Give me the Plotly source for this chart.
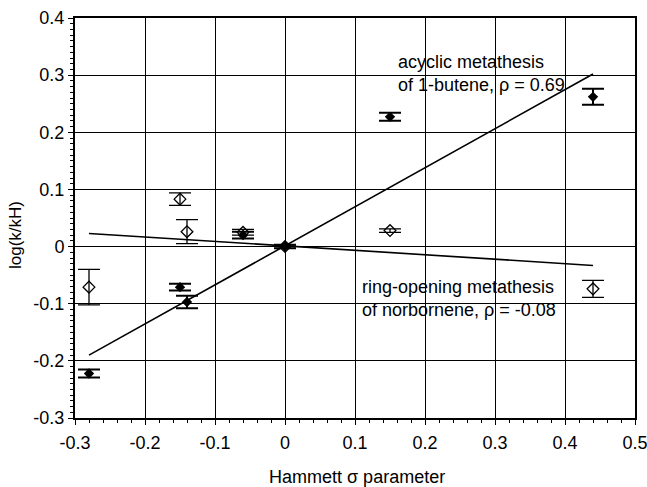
import plotly.graph_objects as go

# Hammett sigma values and log(k/kH)
sigma_acyclic = [-0.28, -0.15, -0.14, -0.06, 0.0, 0.15, 0.44]
logk_acyclic = [-0.222, -0.071, -0.097, 0.020, 0.0, 0.227, 0.262]
err_acyclic = [0.007, 0.006, 0.011, 0.006, 0.003, 0.007, 0.014]

sigma_norb = [-0.28, -0.15, -0.14, -0.06, 0.0, 0.15, 0.44]
logk_norb = [-0.071, 0.083, 0.026, 0.025, 0.0, 0.028, -0.074]
err_norb = [0.031, 0.011, 0.021, 0.005, 0.003, 0.003, 0.015]

fit_x = [-0.28, 0.44]
fit_acyclic = [-0.190, 0.302]
fit_norb = [0.023, -0.033]

x_ticks = [-0.3, -0.2, -0.1, 0, 0.1, 0.2, 0.3, 0.4, 0.5]
x_labels = ["-0.3", "-0.2", "-0.1", "0", "0.1", "0.2", "0.3", "0.4", "0.5"]
y_ticks = [-0.3, -0.2, -0.1, 0, 0.1, 0.2, 0.3, 0.4]
y_labels = ["-0.3", "-0.2", "-0.1", "0", "0.1", "0.2", "0.3", "0.4"]

font = "Liberation Sans, Arial, sans-serif"

fig = go.Figure()
fig.add_trace(go.Scatter(x=fit_x, y=fit_acyclic, mode="lines",
                         line=dict(color="black", width=1.6), showlegend=False))
fig.add_trace(go.Scatter(x=fit_x, y=fit_norb, mode="lines",
                         line=dict(color="black", width=1.6), showlegend=False))
fig.add_trace(go.Scatter(x=sigma_norb, y=logk_norb, mode="markers",
                         marker=dict(symbol="diamond-open", size=9, color="black",
                                     line=dict(width=1.3)),
                         error_y=dict(type="data", array=err_norb, visible=True,
                                      color="black", thickness=1.3, width=11),
                         showlegend=False))
fig.add_trace(go.Scatter(x=sigma_acyclic, y=logk_acyclic, mode="markers",
                         marker=dict(symbol="diamond", size=8, color="black"),
                         error_y=dict(type="data", array=err_acyclic, visible=True,
                                      color="black", thickness=2, width=11),
                         showlegend=False))

fig.add_annotation(x=0.158, y=0.344, xref="x", yref="y", xanchor="left", yanchor="top",
                   text="acyclic metathesis<br>of 1-butene, ρ = 0.69", showarrow=False,
                   align="left", font=dict(family=font, size=18, color="black"))
fig.add_annotation(x=0.107, y=-0.050, xref="x", yref="y", xanchor="left", yanchor="top",
                   text="ring-opening metathesis<br>of norbornene, ρ = -0.08", showarrow=False,
                   align="left", font=dict(family=font, size=18, color="black"))

# axis titles (placed by pixel position, converted to paper fractions below)
fig.add_annotation(x=357, y=487 - 477, xref="paper", yref="paper", text="Hammett σ parameter",
                   xanchor="center", yanchor="middle",
                   showarrow=False, font=dict(family=font, size=18, color="black"))
fig.add_annotation(x=15, y=487 - 235, xref="paper", yref="paper", text="log(k/kH)",
                   xanchor="center", yanchor="middle",
                   textangle=-90, showarrow=False, font=dict(family=font, size=17, color="black"))
L, R, T, B = 75, 12, 18, 69
pw, ph = 647 - L - R, 487 - T - B
for a in fig.layout.annotations[2:]:
    a.x = (a.x - L) / pw
    a.y = (a.y - B) / ph

fig.update_layout(
    width=647, height=487,
    margin=dict(l=L, r=R, t=T, b=B),
    paper_bgcolor="white", plot_bgcolor="white",
    font=dict(family=font, size=16, color="black"),
)
fig.update_xaxes(
    range=[-0.3, 0.5], tickmode="array", tickvals=x_ticks, ticktext=x_labels,
    showgrid=True, gridcolor="black", gridwidth=1,
    showline=True, linecolor="black", linewidth=2, mirror=True,
    ticks="outside", ticklen=5, tickcolor="black",
    minor=dict(dtick=0.02, tick0=0, ticks="outside", ticklen=3, tickcolor="black", showgrid=False),
    zeroline=False, automargin=False, ticklabeloverflow="allow",
    tickfont=dict(size=18), tickangle=0, ticklabelstandoff=2,
)
fig.update_yaxes(
    range=[-0.3, 0.4], tickmode="array", tickvals=y_ticks, ticktext=y_labels,
    showgrid=True, gridcolor="black", gridwidth=1,
    showline=True, linecolor="black", linewidth=2, mirror=True,
    ticks="outside", ticklen=5, tickcolor="black",
    minor=dict(dtick=0.01, tick0=0, ticks="outside", ticklen=3, tickcolor="black", showgrid=False),
    zeroline=False, automargin=False, ticklabeloverflow="allow",
    tickfont=dict(size=18), ticklabelstandoff=0,
)

fig.write_html("out.html")
